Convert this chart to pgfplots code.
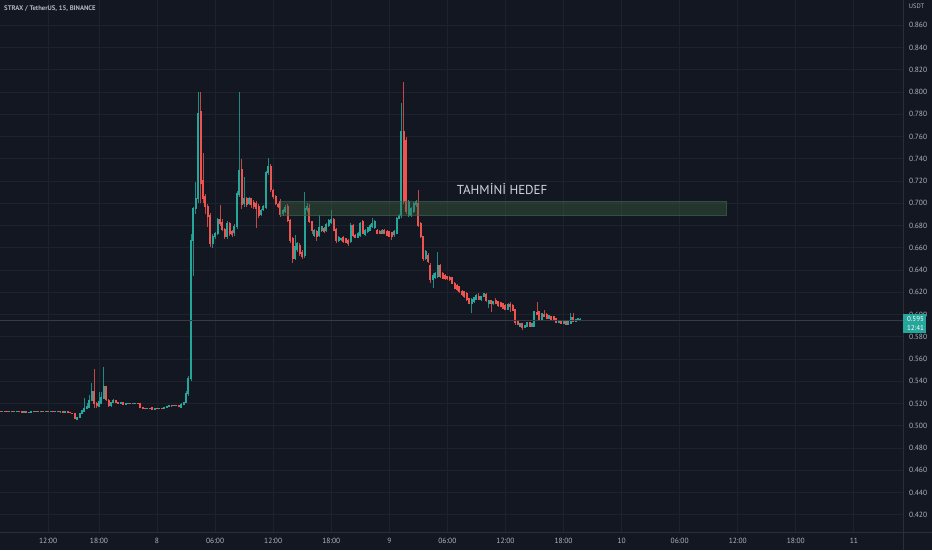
\documentclass[border=0pt]{standalone}
\usepackage{fontspec}
\setmainfont{PT Sans}
\usepackage{pgfplots}
\usepackage{pgfplotstable}
\pgfplotsset{compat=1.18}

\definecolor{bgc}{HTML}{131722}
\definecolor{gridc}{HTML}{1E222D}
\definecolor{scalec}{HTML}{2A2E39}
\definecolor{labc}{HTML}{B2B5BE}
\definecolor{txtc}{HTML}{D1D4DC}
\definecolor{upc}{HTML}{26A69A}
\definecolor{downc}{HTML}{EF5350}
\definecolor{pricec}{HTML}{363C46}
\definecolor{boxc}{RGB}{62,100,66}
\definecolor{boxline}{RGB}{60,110,85}

% STRAX/USDT 15m candles, bar 0 = day 8 00:00
\pgfplotstableread{
bar open high low close
-65 .5132 .5136 .5125 .5128
-64 .5128 .5134 .5126 .5131
-63 .5131 .5134 .5127 .5130
-62 .5130 .5133 .5124 .5127
-61 .5127 .5132 .5124 .5129
-60 .5129 .5131 .5123 .5126
-59 .5126 .5131 .5124 .5128
-58 .5128 .5134 .5126 .5131
-57 .5131 .5133 .5124 .5127
-56 .5127 .5129 .5119 .5122
-55 .5122 .5128 .5119 .5125
-54 .5125 .5127 .5115 .5118
-53 .5118 .5124 .5115 .5121
-52 .5121 .5128 .5119 .5126
-51 .5126 .5129 .5121 .5124
-50 .5124 .5130 .5122 .5127
-49 .5127 .5129 .5122 .5125
-48 .5125 .5135 .5123 .5131
-47 .5131 .5133 .5125 .5128
-46 .5128 .5132 .5126 .5130
-45 .5130 .5132 .5123 .5126
-44 .5126 .5131 .5124 .5129
-43 .5129 .5132 .5121 .5124
-42 .5124 .5129 .5122 .5126
-41 .5126 .5128 .5120 .5123
-40 .5123 .5127 .5120 .5125
-39 .5125 .5127 .5119 .5122
-38 .5122 .5127 .5120 .5124
-37 .5124 .5126 .5117 .5119
-36 .5119 .5121 .5112 .5114
-35 .5114 .5116 .5106 .5108
-34 .5110 .5112 .5062 .5066
-33 .5060 .5078 .5048 .5075
-32 .5078 .5116 .5075 .5112
-31 .5111 .5138 .5108 .5135
-30 .5126 .5246 .5124 .5156
-29 .5150 .5200 .5146 .5170
-28 .5165 .5280 .5160 .5230
-27 .5225 .5387 .5220 .5306
-26 .5306 .5507 .5156 .5201
-25 .5201 .5210 .5160 .5177
-24 .5171 .5306 .5165 .5216
-23 .5201 .5300 .5195 .5255
-22 .5246 .5525 .5240 .5351
-21 .5351 .5360 .5220 .5231
-20 .5231 .5240 .5165 .5177
-19 .5177 .5212 .5170 .5207
-18 .5207 .5240 .5200 .5231
-17 .5225 .5230 .5200 .5205
-16 .5205 .5212 .5195 .5200
-15 .5200 .5212 .5196 .5207
-14 .5207 .5212 .5188 .5192
-13 .5192 .5202 .5188 .5198
-12 .5198 .5205 .5194 .5201
-11 .5201 .5205 .5192 .5196
-10 .5196 .5203 .5192 .5200
-9 .5200 .5207 .5196 .5203
-8 .5203 .5206 .5194 .5198
-7 .5200 .5203 .5158 .5162
-6 .5162 .5168 .5152 .5158
-5 .5158 .5162 .5146 .5150
-4 .5150 .5160 .5146 .5155
-3 .5155 .5158 .5148 .5152
-2 .5160 .5163 .5145 .5149
-1 .5149 .5157 .5146 .5153
0 .5153 .5156 .5146 .5150
1 .5150 .5158 .5147 .5155
2 .5155 .5158 .5148 .5152
3 .5152 .5168 .5149 .5165
4 .5165 .5180 .5162 .5175
5 .5175 .5185 .5170 .5180
6 .5180 .5184 .5172 .5177
7 .5177 .5187 .5173 .5183
8 .5183 .5187 .5175 .5180
9 .5180 .5185 .5165 .5170
10 .5165 .5200 .5155 .5190
11 .5190 .5216 .5185 .5210
12 .5210 .5310 .5205 .5291
13 .5291 .5450 .5270 .5426
14 .5426 .6720 .5400 .6669
15 .6669 .6970 .6350 .6954
16 .6954 .7194 .6900 .7044
17 .7044 .8003 .7000 .7808
18 .7823 .8003 .7000 .7179
19 .7209 .7450 .7000 .7044
20 .7059 .7080 .6900 .6969
21 .6969 .6990 .6790 .6879
22 .6894 .6910 .6610 .6634
23 .6634 .6720 .6600 .6699
24 .6699 .6745 .6680 .6730
25 .6730 .6870 .6715 .6855
26 .6855 .6984 .6800 .6819
27 .6830 .6860 .6750 .6765
28 .6765 .6780 .6680 .6699
29 .6699 .6840 .6680 .6819
30 .6819 .6830 .6710 .6730
31 .6745 .6760 .6700 .6723
32 .6736 .6810 .6710 .6790
33 .6789 .7110 .6770 .7089
34 .7074 .8003 .7060 .7299
35 .7305 .7400 .6950 .6984
36 .6999 .7238 .6970 .7044
37 .7044 .7060 .6970 .6984
38 .6999 .7060 .6980 .7044
39 .7044 .7050 .6960 .6984
40 .7010 .7030 .6950 .6970
41 .7000 .7020 .6774 .6950
42 .6969 .6990 .6870 .6894
43 .6900 .6950 .6885 .6940
44 .6940 .6980 .6930 .6970
45 .6963 .7290 .6950 .7274
46 .7274 .7404 .7250 .7335
47 .7335 .7350 .7100 .7119
48 .7119 .7130 .7040 .7059
49 .7059 .7070 .6980 .6993
50 .6985 .7000 .6960 .6970
51 .7020 .7040 .6880 .6900
52 .6910 .6950 .6890 .6939
53 .6930 .6980 .6910 .6960
54 .6969 .6990 .6830 .6849
55 .6849 .6860 .6640 .6669
56 .6680 .6700 .6460 .6505
57 .6505 .6714 .6490 .6609
58 .6580 .6650 .6560 .6640
59 .6625 .6640 .6530 .6550
60 .6560 .6580 .6500 .6520
61 .6530 .7103 .6510 .6954
62 .6940 .7000 .6920 .6969
63 .6954 .6990 .6820 .6834
64 .6834 .6845 .6720 .6759
65 .6714 .6770 .6700 .6759
66 .6744 .6760 .6660 .6699
67 .6714 .6894 .6700 .6783
68 .6759 .6800 .6740 .6789
69 .6774 .6790 .6730 .6744
70 .6759 .6825 .6740 .6813
71 .6800 .6855 .6790 .6843
72 .6830 .6939 .6815 .6855
73 .6855 .6865 .6750 .6759
74 .6765 .6775 .6640 .6669
75 .6663 .6705 .6650 .6694
76 .6670 .6690 .6660 .6680
77 .6694 .6705 .6645 .6654
78 .6680 .6690 .6640 .6650
79 .6669 .6680 .6620 .6640
80 .6654 .6820 .6640 .6804
81 .6804 .6815 .6700 .6714
82 .6714 .6725 .6685 .6694
83 .6694 .6740 .6685 .6730
84 .6714 .6830 .6700 .6819
85 .6834 .6850 .6720 .6730
86 .6723 .6770 .6710 .6759
87 .6744 .6790 .6735 .6783
88 .6759 .6815 .6750 .6804
89 .6790 .6864 .6780 .6820
90 .6780 .6850 .6770 .6840
91 .6759 .6770 .6720 .6730
92 .6750 .6760 .6720 .6730
93 .6730 .6770 .6720 .6759
94 .6759 .6770 .6720 .6730
95 .6750 .6760 .6705 .6714
96 .6744 .6750 .6695 .6705
97 .6735 .6745 .6670 .6699
98 .6715 .6760 .6700 .6745
99 .6730 .6880 .6720 .6865
100 .6865 .6900 .6855 .6894
101 .6894 .7898 .6870 .7643
102 .7643 .8093 .6990 .7014
103 .7568 .7600 .6900 .6924
104 .6894 .7030 .6880 .7014
105 .6894 .6970 .6880 .6954
106 .6924 .7010 .6910 .6999
107 .6984 .7030 .6970 .7014
108 .6999 .7120 .6790 .6804
109 .6819 .6830 .6690 .6699
110 .6699 .6710 .6480 .6505
111 .6505 .6580 .6490 .6565
112 .6535 .6550 .6460 .6475
113 .6445 .6460 .6280 .6310
114 .6310 .6370 .6235 .6355
115 .6330 .6380 .6320 .6370
116 .6340 .6565 .6330 .6445
117 .6445 .6450 .6330 .6340
118 .6370 .6380 .6315 .6325
119 .6355 .6365 .6310 .6320
120 .6340 .6350 .6310 .6320
121 .6330 .6345 .6300 .6310
122 .6330 .6340 .6270 .6280
123 .6280 .6290 .6225 .6235
124 .6265 .6275 .6210 .6220
125 .6250 .6260 .6195 .6205
126 .6210 .6220 .6165 .6175
127 .6205 .6215 .6150 .6160
128 .6190 .6200 .6120 .6130
129 .6145 .6150 .6090 .6100
130 .6100 .6145 .6010 .6136
131 .6115 .6160 .6105 .6154
132 .6136 .6180 .6130 .6175
133 .6166 .6196 .6130 .6136
134 .6130 .6165 .6125 .6160
135 .6160 .6195 .6155 .6190
136 .6184 .6190 .6115 .6124
137 .6100 .6130 .6055 .6124
138 .6124 .6130 .6025 .6100
139 .6094 .6120 .6085 .6115
140 .6124 .6145 .6090 .6094
141 .6115 .6120 .6070 .6076
142 .6106 .6110 .6065 .6070
143 .6100 .6105 .6050 .6055
144 .6085 .6090 .6040 .6046
145 .6046 .6100 .6040 .6094
146 .6091 .6115 .6025 .6070
147 .6085 .6090 .6030 .6034
148 .6046 .6050 .5910 .5926
149 .5935 .5940 .5905 .5914
150 .5896 .5925 .5890 .5920
151 .5920 .5925 .5860 .5884
152 .5884 .5910 .5880 .5905
153 .5890 .5930 .5885 .5926
154 .5926 .5930 .5890 .5896
155 .5896 .5925 .5890 .5920
156 .5896 .6030 .5890 .6025
157 .6016 .6115 .5995 .6004
158 .6025 .6030 .5950 .5956
159 .5956 .6015 .5950 .6010
160 .6004 .6040 .5980 .5986
161 .6004 .6010 .5960 .5965
162 .5965 .6000 .5960 .5995
163 .5980 .5985 .5950 .5956
164 .5980 .5985 .5945 .5950
165 .5965 .5970 .5920 .5926
166 .5926 .5955 .5920 .5950
167 .5950 .5955 .5915 .5920
168 .5920 .5940 .5915 .5935
169 .5935 .5940 .5910 .5914
170 .5914 .5940 .5910 .5935
171 .5920 .6010 .5915 .5974
172 .5974 .6010 .5930 .5935
173 .5935 .5960 .5930 .5956
174 .5950 .5970 .5945 .5965
175 .5952 .5966 .5946 .5955
}\candles

\begin{document}
\begin{tikzpicture}
\fill[bgc] (0,0) rectangle (932pt,550pt);
\begin{axis}[
    at={(0pt,18pt)}, anchor=south west,
    scale only axis, width=903pt, height=532pt,
    xmin=-64.9, xmax=308.3,
    ymin=0.40446, ymax=0.88275,
    axis line style={draw=none},
    major tick length=0pt,
    grid=major,
    major grid style={draw=gridc, line width=0.8pt},
    xtick={-65,-45,-24,0,24,48,72,96,120,144,168,192,216,240,264,288},
    xticklabels={06:00,12:00,18:00,8,06:00,12:00,18:00,9,06:00,12:00,18:00,10,06:00,12:00,18:00,11},
    ytick={0.42,0.44,0.46,0.48,0.50,0.52,0.54,0.56,0.58,0.60,0.62,0.64,0.66,0.68,0.70,0.72,0.74,0.76,0.78,0.80,0.82,0.84,0.86},
    yticklabel pos=right,
    ticklabel style={font=\fontsize{7.5}{9}\selectfont, text=labc},
    yticklabel style={anchor=west, inner sep=0pt, xshift=6pt,
        /pgf/number format/fixed, /pgf/number format/fixed zerofill,
        /pgf/number format/precision=3},
    xticklabel style={anchor=center, inner sep=0pt, yshift=-9pt},
    /pgf/number format/assume math mode=true,
]
% wicks
\addplot[upc, draw=none, mark=none, forget plot,
    restrict expr to domain={\thisrow{close}-\thisrow{open}}{0:1},
    error bars/.cd, y dir=plus, y explicit, error mark=none,
    error bar style={line width=0.7pt, draw=upc, opacity=0.8}]
    table[x=bar, y=low, y error expr=\thisrow{high}-\thisrow{low}] {\candles};
\addplot[downc, draw=none, mark=none, forget plot,
    restrict expr to domain={\thisrow{open}-\thisrow{close}}{0.00001:1},
    error bars/.cd, y dir=plus, y explicit, error mark=none,
    error bar style={line width=0.7pt, draw=downc, opacity=0.8}]
    table[x=bar, y=low, y error expr=\thisrow{high}-\thisrow{low}] {\candles};
% bodies (at least one pixel tall)
\addplot[upc, draw=none, mark=none, forget plot,
    restrict expr to domain={\thisrow{close}-\thisrow{open}}{0:1},
    error bars/.cd, y dir=plus, y explicit, error mark=none,
    error bar style={line width=2pt, draw=upc}]
    table[x=bar, y expr=\thisrow{open}-0.0004,
          y error expr=\thisrow{close}-\thisrow{open}+0.0008] {\candles};
\addplot[downc, draw=none, mark=none, forget plot,
    restrict expr to domain={\thisrow{open}-\thisrow{close}}{0.00001:1},
    error bars/.cd, y dir=plus, y explicit, error mark=none,
    error bar style={line width=2pt, draw=downc}]
    table[x=bar, y expr=\thisrow{close}-0.0004,
          y error expr=\thisrow{open}-\thisrow{close}+0.0008] {\candles};

% current price line
\draw[pricec, line width=0.6pt] (axis cs:-70,0.595) -- (axis cs:320,0.595);
% target zone
\filldraw[fill=boxc, fill opacity=0.4, draw=boxline, draw opacity=0.5, line width=0.6pt]
    (axis cs:50.8,0.6888) rectangle (axis cs:235.4,0.7017);
\node[anchor=west, inner sep=0pt, text=txtc, font=\fontsize{13}{15}\selectfont]
    at (axis cs:123.8,0.7128) {TAHMİNİ HEDEF};
\end{axis}
% scale borders
\draw[scalec, line width=0.8pt] (903pt,0) -- (903pt,550pt);
\draw[scalec, line width=0.8pt] (0,18pt) -- (932pt,18pt);
% header and price tag
\node[anchor=west, inner sep=0pt, text=labc, font=\bfseries\fontsize{6.7}{8}\selectfont]
    at (4pt,541.7pt) {STRAX / TetherUS, 15, BINANCE};
\node[anchor=center, inner sep=0pt, text=labc, font=\fontsize{6.5}{8}\selectfont]
    at (916.5pt,543.3pt) {USDT};
\fill[upc] (903pt,217pt) rectangle (926pt,236pt);
\node[anchor=center, inner sep=0pt, text=white, font=\fontsize{7}{8}\selectfont]
    at (915.5pt,230.5pt) {0.595};
\node[anchor=center, inner sep=0pt, text=white, font=\fontsize{7}{8}\selectfont]
    at (915.5pt,221.5pt) {12:41};
\pgfresetboundingbox
\useasboundingbox (0,0) rectangle (932pt,550pt);
\end{tikzpicture}
\end{document}
